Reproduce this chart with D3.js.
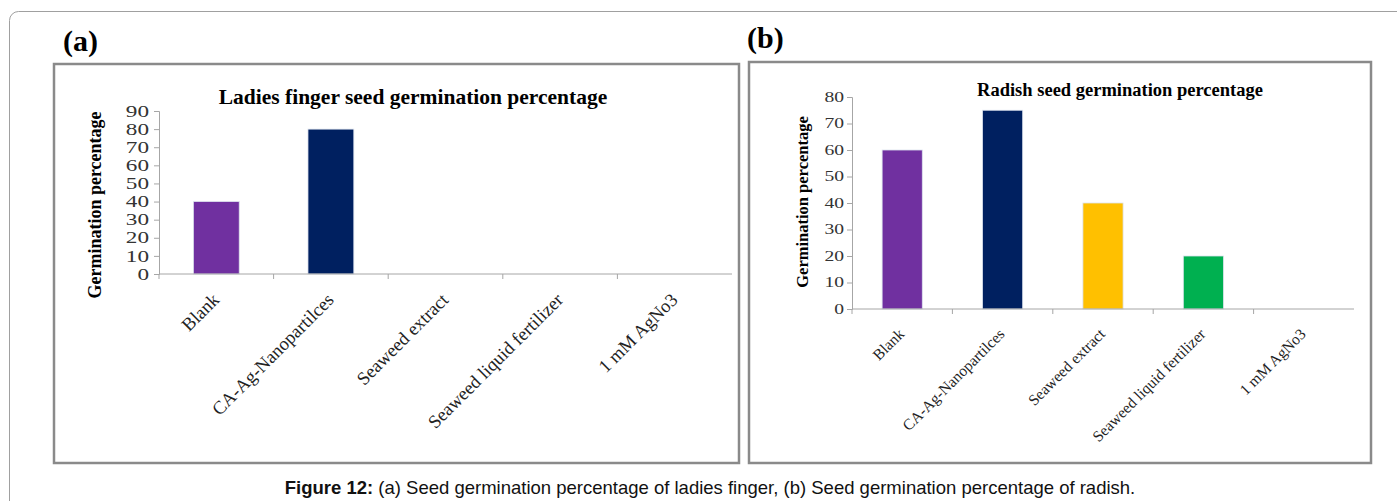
<!DOCTYPE html>
<html>
<head>
<meta charset="utf-8">
<script src="https://cdn.jsdelivr.net/npm/d3@7"></script>
<style>
  body { margin: 0; background: #fff; }
  svg { display: block; }
</style>
</head>
<body>
<div id="chart"></div>
<script>
// categories and values
const categories = ["Blank", "CA-Ag-Nanopartilces", "Seaweed extract", "Seaweed liquid fertilizer", "1 mM AgNo3"];
const ladiesFinger = [40, 80, 0, 0, 0];
const radish = [60, 75, 40, 20, 0];
const ladiesTicks = [0, 10, 20, 30, 40, 50, 60, 70, 80, 90];
const radishTicks = [0, 10, 20, 30, 40, 50, 60, 70, 80];
const barColors = ["#7030A0", "#002060", "#FFC000", "#00B050", "#C00000"];

const W = 1397, H = 501;
const serif = "'Liberation Serif', 'Times New Roman', serif";

const svg = d3.select("#chart").append("svg")
  .attr("width", W).attr("height", H);

// outer rounded frame (runs off the right and bottom edge)
svg.append("rect")
  .attr("x", 9.5).attr("y", 11.5)
  .attr("width", 1420).attr("height", 520)
  .attr("rx", 9)
  .attr("fill", "none").attr("stroke", "#a0a0a0").attr("stroke-width", 1);

function drawPanel(p) {
  // panel box
  svg.append("rect")
    .attr("x", p.box[0]).attr("y", p.box[1])
    .attr("width", p.box[2]).attr("height", p.box[3])
    .attr("fill", "#fff").attr("stroke", "#8a8a8a").attr("stroke-width", 2.5);

  svg.append("text")
    .attr("x", p.tag[0]).attr("y", p.tag[1])
    .attr("font-family", serif).attr("font-weight", "bold")
    .attr("font-size", 30)
    .text(p.label);

  const x = d3.scaleBand().domain(categories).range(p.xr);
  const y = d3.scaleLinear().domain([0, d3.max(p.ticks)]).range(p.yr);

  const g = svg.append("g");

  // bars
  const bw = x.bandwidth() * 0.4;
  g.selectAll("rect.bar")
    .data(p.values)
    .enter().append("rect")
    .attr("class", "bar")
    .attr("x", (d, i) => x(categories[i]) + (x.bandwidth() - bw) / 2)
    .attr("y", d => y(d))
    .attr("width", bw)
    .attr("height", d => y(0) - y(d))
    .attr("fill", (d, i) => barColors[i])
    .attr("stroke", "#dde3ee").attr("stroke-width", 0.8);

  // y axis, labels stretched sideways like the original bitmap
  const ya = g.append("g")
    .attr("transform", `translate(${p.xr[0]},0)`)
    .call(d3.axisLeft(y).tickValues(p.ticks).tickSize(5));
  ya.select(".domain").attr("stroke", "#a6a6a6");
  ya.selectAll(".tick line").attr("stroke", "#a6a6a6");
  ya.selectAll(".tick text")
    .attr("x", -p.tickGap / p.tickStretch)
    .attr("transform", `scale(${p.tickStretch},1)`)
    .attr("font-family", serif).attr("font-size", p.tickFont)
    .attr("fill", "#333");

  // x axis with ticks at band edges
  const xa = g.append("g").attr("transform", `translate(0,${p.yr[0]})`);
  xa.append("line")
    .attr("x1", p.xr[0]).attr("x2", p.xr[1])
    .attr("stroke", "#a6a6a6");
  xa.selectAll("line.edge")
    .data(categories)
    .enter().append("line")
    .attr("class", "edge")
    .attr("x1", d => x(d)).attr("x2", d => x(d))
    .attr("y1", 0).attr("y2", 5)
    .attr("stroke", "#a6a6a6");
  xa.selectAll("text")
    .data(categories)
    .enter().append("text")
    .attr("transform", d => `translate(${x(d) + x.bandwidth() / 2 + p.lab[0]},${p.lab[1]}) rotate(-45)`)
    .attr("text-anchor", "end")
    .attr("font-family", serif).attr("font-size", p.labFont)
    .attr("fill", "#222")
    .text(d => d);

  // chart title
  svg.append("text")
    .attr("x", p.title[0]).attr("y", p.title[1])
    .attr("text-anchor", "middle")
    .attr("font-family", serif).attr("font-weight", "bold")
    .attr("font-size", p.titleFont)
    .text(p.titleText);

  // y axis title
  svg.append("text")
    .attr("transform", `translate(${p.ytitle[0]},${p.ytitle[1]}) rotate(-90)`)
    .attr("text-anchor", "middle")
    .attr("font-family", serif).attr("font-weight", "bold")
    .attr("font-size", p.ytitleFont)
    .text("Germination percentage");
}

drawPanel({
  label: "(a)", tag: [63, 51],
  box: [54, 64, 685, 399],
  values: ladiesFinger, ticks: ladiesTicks,
  xr: [159, 732], yr: [274, 111],
  tickFont: 16, tickStretch: 1.45, tickGap: 10,
  labFont: 18.5, lab: [4, 27],
  title: [413, 104], titleFont: 21.5, titleText: "Ladies finger seed germination percentage",
  ytitle: [101, 205], ytitleFont: 18
});

drawPanel({
  label: "(b)", tag: [747, 48],
  box: [749, 62, 622, 401],
  values: radish, ticks: radishTicks,
  xr: [852, 1354], yr: [309, 97],
  tickFont: 14, tickStretch: 1.4, tickGap: 8,
  labFont: 15.5, lab: [3, 26],
  title: [1120, 96], titleFont: 18.5, titleText: "Radish seed germination percentage",
  ytitle: [808, 202], ytitleFont: 16.5
});

// figure caption
const cap = svg.append("text")
  .attr("x", 710).attr("y", 494)
  .attr("text-anchor", "middle")
  .attr("font-family", "'Liberation Sans', Arial, sans-serif")
  .attr("font-size", 18.5)
  .attr("fill", "#111");
cap.append("tspan").attr("font-weight", "bold").text("Figure 12:");
cap.append("tspan").text(" (a) Seed germination percentage of ladies finger, (b) Seed germination percentage of radish.");
</script>
</body>
</html>
